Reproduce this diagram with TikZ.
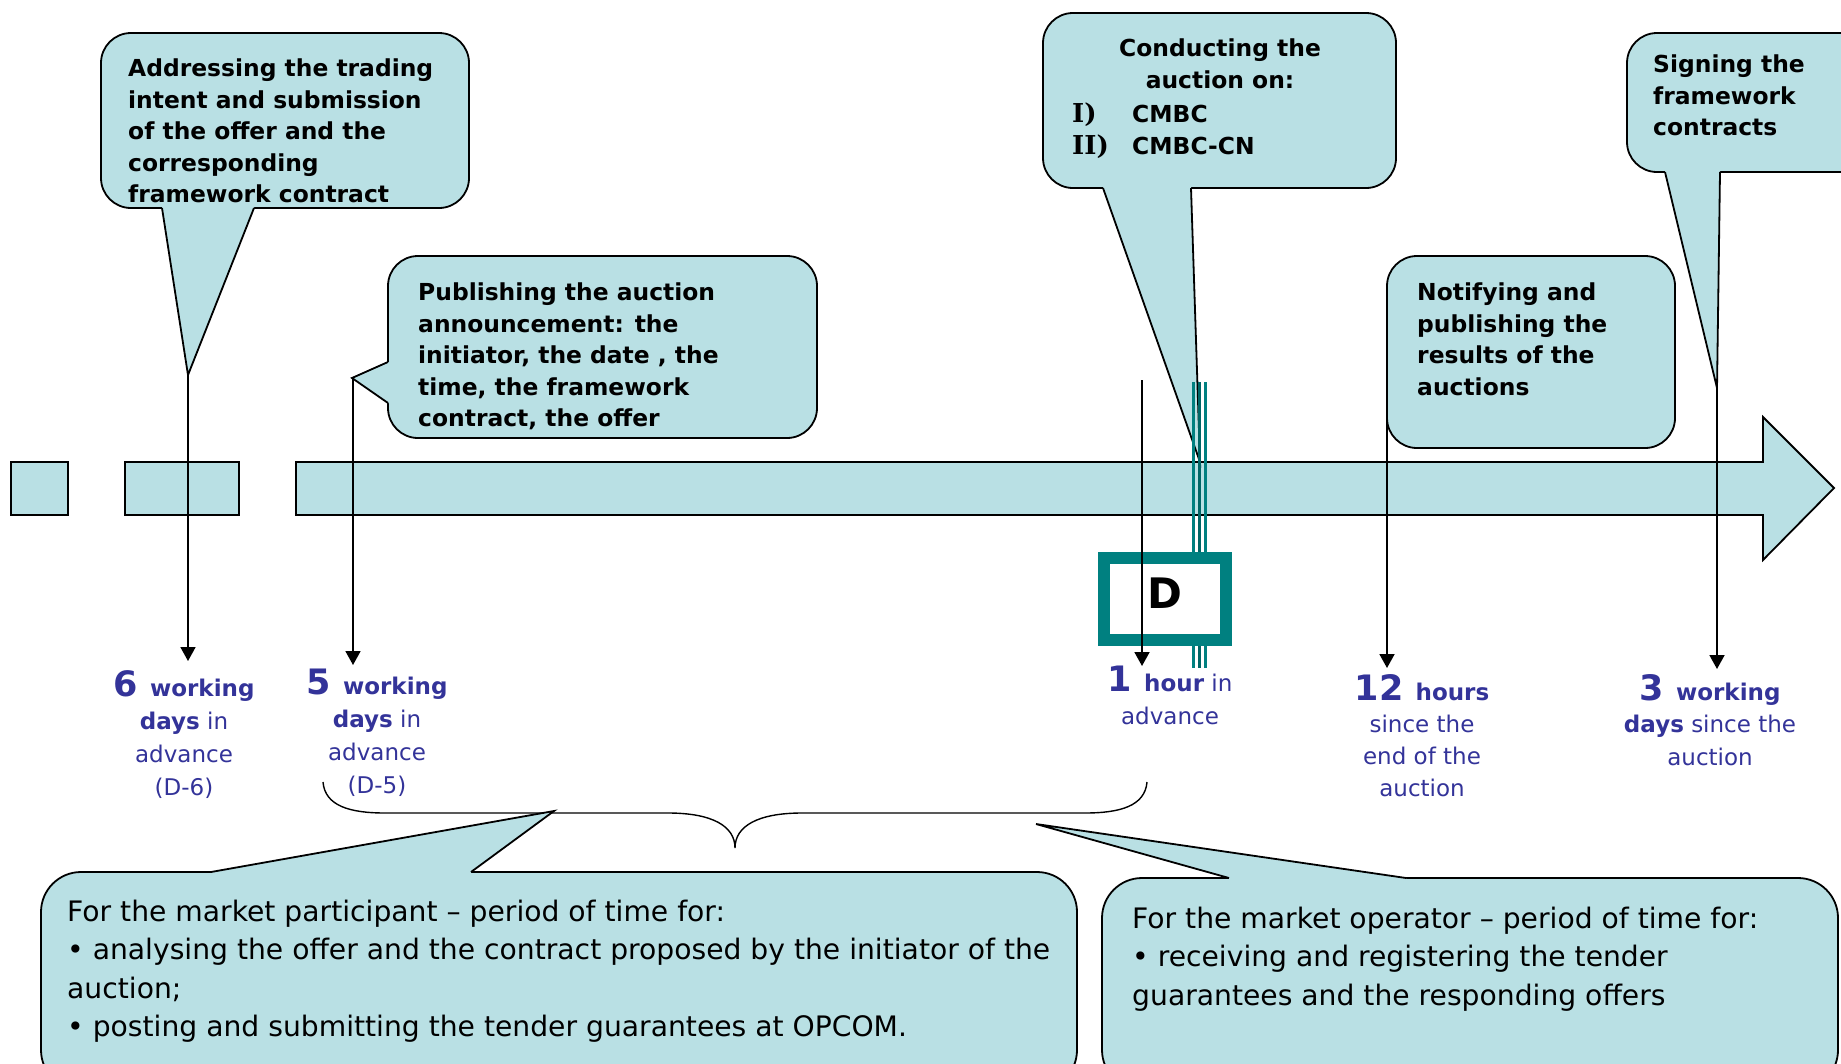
\documentclass[tikz,border=0pt]{standalone}
\usepackage{fontspec}
\setmainfont{DejaVu Sans}
\newfontfamily\romanfont{DejaVu Serif}
\usetikzlibrary{arrows.meta}
\definecolor{callfill}{RGB}{185,224,228}
\definecolor{labblue}{RGB}{51,51,153}
\newcommand{\bignum}[1]{{\fontsize{35}{33}\selectfont\bfseries #1\ }}

\begin{document}
\begin{tikzpicture}[x=1pt, y=-1pt,
    bar/.style={fill=callfill, draw=black, line width=1.8pt},
    bubble/.style={fill=callfill, draw=black, line width=1.8pt, rounded corners=30pt},
    tail/.style={draw=black, line width=1.8pt},
    pin/.style={line width=1.8pt, -{Triangle[width=15pt,length=14pt]}},
    calltext/.style={anchor=north west, inner sep=0pt, align=left, font=\fontsize{23.4}{31.5}\selectfont\bfseries},
    lab/.style={anchor=north, inner sep=0pt, align=center, text=labblue, font=\fontsize{23}{33}\selectfont},
    note/.style={anchor=north west, inner sep=0pt, align=left, font=\fontsize{28.2}{38.3}\selectfont}]
    \useasboundingbox (0,0) rectangle (1841,1063);

    \draw[bar] (11,462) rectangle (68,515);
    \draw[bar] (125,462) rectangle (239,515);
    \draw[bar] (296,462) -- (1763,462) -- (1763,417) -- (1834,488) -- (1763,560) -- (1763,515) -- (296,515) -- cycle;

    \draw[bubble] (101,33) rectangle (469,208);
    \fill[callfill] (162,204) -- (162,208) -- (188,375) -- (254,208) -- (254,204) -- cycle;
    \draw[tail] (162,208) -- (188,375) -- (254,208);
    \node[calltext] (txtA) at (128,59) {Addressing the trading\\intent and submission\\of the offer and the\\corresponding\\framework contract};

    \draw[bubble] (388,256) rectangle (817,438);
    \fill[callfill] (392,362) -- (388,362) -- (352,378) -- (388,403) -- (392,403) -- cycle;
    \draw[tail] (388,362) -- (352,378) -- (388,403);
    \node[calltext] (txtB) at (418,283) {Publishing the auction\\announcement: the\\initiator, the date , the\\time, the framework\\contract, the offer};

    \draw[bubble] (1043,13) rectangle (1396,188);
    \fill[callfill] (1103,184) -- (1103,188) -- (1200,462) -- (1191,188) -- (1191,184) -- cycle;
    \draw[tail] (1103,188) -- (1200,462) -- (1191,188);
    \node[calltext, anchor=north, align=center] (txtC) at (1220,39) {Conducting the\\auction on:};
    \node[calltext] (lstC) at (1072,103) {\makebox[60pt][l]{\romanfont\fontsize{26}{31.5}\selectfont I)}CMBC\\\makebox[60pt][l]{\romanfont\fontsize{26}{31.5}\selectfont II)}CMBC-CN};

    \draw[bubble] (1387,256) rectangle (1675,448);
    \node[calltext] (txtD) at (1417,283) {Notifying and\\publishing the\\results of the\\auctions};

    \draw[bubble] (1627,33) rectangle (1875,172);
    \fill[callfill] (1665,168) -- (1665,172) -- (1717,388) -- (1720,172) -- (1720,168) -- cycle;
    \draw[tail] (1665,172) -- (1717,388) -- (1720,172);
    \node[calltext] (txtE) at (1653,55) {Signing the\\framework\\contracts};

    \draw[teal, line width=3pt] (1193,382) -- (1193,668);
    \draw[teal!80!black, line width=3pt] (1199,382) -- (1199,668);
    \draw[teal, line width=3pt] (1205,382) -- (1205,668);
    \node[draw=teal, line width=12pt, fill=white, minimum width=122pt, minimum height=82pt, inner sep=0pt, text depth=12pt, font=\fontsize{42}{42}\selectfont\bfseries] (dbox) at (1165,599) {D};

    \coordinate (tipA) at (188,375);
    \coordinate (endA) at (188,661);
    \coordinate (tipB) at (353,378);
    \coordinate (endB) at (353,665);
    \coordinate (tipH) at (1142,380);
    \coordinate (endH) at (1142,666);
    \coordinate (tipD) at (1387,380);
    \coordinate (endD) at (1387,668);
    \coordinate (tipE) at (1717,388);
    \coordinate (endE) at (1717,669);
    \draw[pin] (tipA) -- (endA);
    \draw[pin] (tipB) -- (endB);
    \draw[pin] (tipH) -- (endH);
    \draw[pin] (tipD) -- (endD);
    \draw[pin] (tipE) -- (endE);

    \node[lab] (lab6) at (184,670) {\bignum{6}\textbf{working}\\\textbf{days} in\\advance\\(D-6)};
    \node[lab] (lab5) at (377,669) {\bignum{5}\textbf{working}\\\textbf{days} in\\advance\\(D-5)};
    \node[lab] (lab1) at (1170,666) {\bignum{1}\textbf{hour} in\\advance};
    \node[lab, font=\fontsize{23}{32}\selectfont] (lab12) at (1422,674) {\bignum{12}\textbf{hours}\\since the\\end of the\\auction};
    \node[lab, font=\fontsize{23}{32.5}\selectfont] (lab3) at (1710,674) {\bignum{3}\textbf{working}\\\textbf{days} since the\\auction};

    \draw[line width=1.4pt] (323,782) .. controls (325,806) and (350,813) .. (385,813) -- (668,813) .. controls (712,813) and (735,826) .. (735,848) .. controls (735,826) and (758,813) .. (802,813) -- (1085,813) .. controls (1120,813) and (1145,806) .. (1147,782);

    \draw[bubble, rounded corners=40pt] (41,872) rectangle (1077,1090);
    \fill[callfill] (211,876) -- (211,872) -- (554,811) -- (471,872) -- (471,876) -- cycle;
    \draw[tail] (211,872) -- (554,811) -- (471,872);
    \node[note] (txtF) at (67,900) {For the market participant – period of time for:\\• analysing the offer and the contract proposed by the initiator of the\\auction;\\• posting and submitting the tender guarantees at OPCOM.};

    \draw[bubble, rounded corners=40pt] (1102,878) rectangle (1838,1090);
    \fill[callfill] (1229,882) -- (1229,878) -- (1036,824) -- (1406,878) -- (1406,882) -- cycle;
    \draw[tail] (1229,878) -- (1036,824) -- (1406,878);
    \node[note] (txtG) at (1132,907) {For the market operator – period of time for:\\• receiving and registering the tender\\guarantees and the responding offers};
\end{tikzpicture}
\end{document}
